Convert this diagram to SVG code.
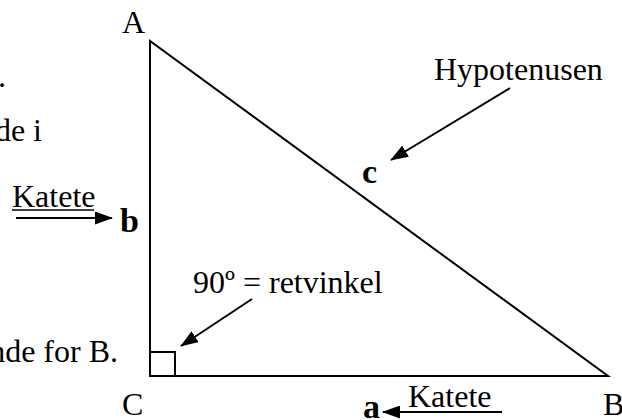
<svg xmlns="http://www.w3.org/2000/svg" width="622" height="420" viewBox="0 0 622 420">
<style>
.t{font-family:"Liberation Serif","Times New Roman",serif;font-size:32px;fill:#000}
.bl{font-family:"Liberation Serif","Times New Roman",serif;font-size:34px;font-weight:bold;fill:#000}
.ln{stroke:#000;stroke-width:2;fill:none}
</style>
<defs>
<marker id="ah" markerWidth="18" markerHeight="13" refX="17" refY="6.5" orient="auto" markerUnits="userSpaceOnUse">
<path d="M0,0 L18,6.5 L0,13 Z" fill="#000"/>
</marker>
</defs>
<rect width="622" height="420" fill="#fff"/>
<g id="triangle">
<path class="ln" d="M150,41 L150,376 L608,376 Z"/>
<rect class="ln" x="150" y="352" width="25" height="24"/>
</g>
<g id="vertex-A"><text class="t" x="122" y="33">A</text></g>
<g id="vertex-B"><text class="t" x="603" y="415">B</text></g>
<g id="vertex-C"><text class="t" x="122" y="415">C</text></g>
<g id="side-a"><text class="bl" x="363" y="418">a</text></g>
<g id="side-b"><text class="bl" x="120" y="232">b</text></g>
<g id="side-c"><text class="bl" x="362" y="183">c</text></g>
<g id="label-hyp"><text class="t" x="434" y="80">Hypotenusen</text></g>
<g id="label-90"><text class="t" x="193" y="293">90º = retvinkel</text></g>
<g id="label-katete-b"><text class="t" x="12" y="207">Katete</text><line stroke="#000" stroke-width="1.5" x1="12" y1="210" x2="94" y2="210"/></g>
<g id="label-katete-a"><text class="t" x="408" y="407">Katete</text></g>
<g id="cut-text">
<text class="t" x="6" y="87" text-anchor="end">.</text>
<text class="t" x="42" y="141" text-anchor="end">de i</text>
<text class="t" x="118" y="362" text-anchor="end">nde for B.</text>
</g>
<g id="connectors">
<line class="ln" x1="16" y1="218" x2="112" y2="218" marker-end="url(#ah)"/>
<line class="ln" x1="502" y1="412" x2="383" y2="412" marker-end="url(#ah)"/>
<line class="ln" x1="510" y1="88" x2="391" y2="160" marker-end="url(#ah)"/>
<line class="ln" x1="252" y1="299" x2="181" y2="346" marker-end="url(#ah)"/>
</g>
</svg>
